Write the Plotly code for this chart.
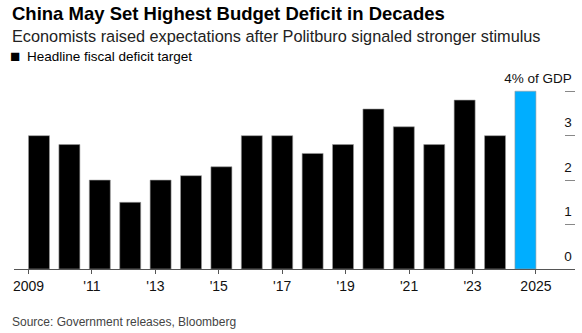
import plotly.graph_objects as go

years = list(range(2009, 2026))
deficit = [3.0, 2.8, 2.0, 1.5, 2.0, 2.1, 2.3, 3.0, 3.0, 2.6, 2.8, 3.6, 3.2, 2.8, 3.8, 3.0, 4.0]
tick_years = [2009, 2011, 2013, 2015, 2017, 2019, 2021, 2023, 2025]
tick_labels = ["2009", "'11", "'13", "'15", "'17", "'19", "'21", "'23", "2025"]
y_ticks = [0, 1, 2, 3, 4]
y_labels = ["0", "1", "2", "3", "4% of GDP"]

W, H = 582, 333
L, R, T, B = 14, 7, 89, 64
pw, ph = W - L - R, H - T - B

def px(x):
    return (x - L) / pw

def py(y):
    return (H - B - y) / ph

BAR_W = 0.69
idx = list(range(len(years)))
# time scale: first year at left edge of first bar, last year at right edge of last bar
n = len(years) - 1
tick_pos = [-BAR_W / 2 + (y - years[0]) / (years[-1] - years[0]) * (n + BAR_W) for y in tick_years]

colors = ["#000000"] * (len(years) - 1) + ["#00AEFF"]

fig = go.Figure()
fig.add_trace(go.Bar(x=idx, y=deficit, marker=dict(color=colors, line=dict(color="#9a9a9a", width=0.6)),
                     width=BAR_W, showlegend=False, hoverinfo="skip"))

fig.update_layout(
    width=W, height=H,
    margin=dict(l=L, r=R, t=T, b=B),
    paper_bgcolor="white", plot_bgcolor="white",
    font=dict(family="Liberation Sans, Arial, sans-serif", color="#000000"),
    xaxis=dict(range=[-0.822, 17.63], tickvals=tick_pos, ticktext=tick_labels, ticks="outside", ticklen=4,
               tickcolor="#555555", tickwidth=1, showline=True, linecolor="#555555", linewidth=1,
               showgrid=False, zeroline=False, tickfont=dict(size=14, color="#111111"),
               ticklabeloverflow="allow"),
    yaxis=dict(range=[0, 4.05], side="right", tickvals=y_ticks, ticktext=y_labels,
               ticks="inside", ticklen=10, tickcolor="#888888", tickwidth=1.2,
               ticklabelposition="inside", ticklabelshift=-13, ticklabelstandoff=-7,
               ticklabeloverflow="allow",
               showline=False, showgrid=False, zeroline=False,
               tickfont=dict(size=13.5, color="#111111")),
)

fig.add_annotation(x=px(10), y=py(14), xref="paper", yref="paper", xanchor="left", yanchor="middle",
                   text="<b>China May Set Highest Budget Deficit in Decades</b>", showarrow=False,
                   font=dict(size=18.5, color="#000000"))
fig.add_annotation(x=px(10), y=py(36), xref="paper", yref="paper", xanchor="left", yanchor="middle",
                   text="Economists raised expectations after Politburo signaled stronger stimulus", showarrow=False,
                   font=dict(size=16.3, color="#222222"))
fig.add_annotation(x=px(8), y=py(57), xref="paper", yref="paper", xanchor="left", yanchor="middle",
                   text="\u25A0", showarrow=False,
                   font=dict(size=17, color="#000000"))
fig.add_annotation(x=px(25), y=py(57), xref="paper", yref="paper", xanchor="left", yanchor="middle",
                   text="Headline fiscal deficit target", showarrow=False,
                   font=dict(size=13.5, color="#000000"))
fig.add_annotation(x=px(10), y=py(322), xref="paper", yref="paper", xanchor="left", yanchor="middle",
                   text="Source: Government releases, Bloomberg", showarrow=False,
                   font=dict(size=12, color="#444444"))

fig.write_html("out.html")
